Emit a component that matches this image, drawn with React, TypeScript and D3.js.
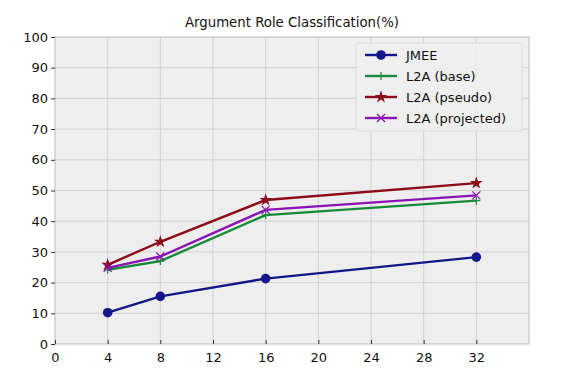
import React, { useEffect, useRef } from 'react';
import * as d3 from 'd3';

const xs = [4, 8, 16, 32];
const jmee = [10.2, 15.5, 21.3, 28.3];
const l2aBase = [24.2, 27.0, 42.0, 46.7];
const l2aPseudo = [25.8, 33.3, 46.9, 52.4];
const l2aProjected = [24.8, 28.5, 43.7, 48.4];
const xTicks = [0, 4, 8, 12, 16, 20, 24, 28, 32];
const yTicks = [0, 10, 20, 30, 40, 50, 60, 70, 80, 90, 100];

const series = [
  { name: 'JMEE', values: jmee, color: '#13178a', marker: 'circle' },
  { name: 'L2A (base)', values: l2aBase, color: '#178a3c', marker: 'plus' },
  { name: 'L2A (pseudo)', values: l2aPseudo, color: '#8c0a1a', marker: 'star' },
  { name: 'L2A (projected)', values: l2aProjected, color: '#8a14b4', marker: 'x' },
];

const App = () => {
  const ref = useRef<SVGSVGElement>(null);

  useEffect(() => {
    const width = 564;
    const height = 378;
    const margin = { top: 37, right: 35, bottom: 34, left: 55 };
    const svg = d3.select(ref.current);
    svg.selectAll('*').remove();
    const font = 'DejaVu Sans, sans-serif';

    const x = d3.scaleLinear().domain([0, 36]).range([margin.left, width - margin.right]);
    const y = d3.scaleLinear().domain([0, 100]).range([height - margin.bottom, margin.top]);

    // plot background
    svg.append('rect')
      .attr('x', x(0))
      .attr('y', y(100))
      .attr('width', x(36) - x(0))
      .attr('height', y(0) - y(100))
      .attr('fill', '#eeeeee');

    // grid
    const grid = svg.append('g').attr('stroke', '#d2d2d2').attr('stroke-width', 1);
    grid.selectAll('.gx')
      .data(xTicks.slice(1))
      .enter()
      .append('line')
      .attr('x1', (d) => x(d))
      .attr('x2', (d) => x(d))
      .attr('y1', y(0))
      .attr('y2', y(100));
    grid.selectAll('.gy')
      .data(yTicks.slice(1, -1))
      .enter()
      .append('line')
      .attr('x1', x(0))
      .attr('x2', x(36))
      .attr('y1', (d) => y(d))
      .attr('y2', (d) => y(d));

    // frame
    svg.append('rect')
      .attr('x', x(0))
      .attr('y', y(100))
      .attr('width', x(36) - x(0))
      .attr('height', y(0) - y(100))
      .attr('fill', 'none')
      .attr('stroke', '#bcbcbc')
      .attr('stroke-width', 1);

    // axes
    const xAxis = svg.append('g')
      .attr('transform', `translate(0,${y(0)})`)
      .call(d3.axisBottom(x).tickValues(xTicks).tickSizeInner(-4).tickSizeOuter(0).tickPadding(9));
    xAxis.select('.domain').remove();
    xAxis.selectAll('line').attr('stroke', '#333');
    xAxis.selectAll('text').attr('font-size', 13).attr('font-family', font).attr('fill', '#111');

    const yAxis = svg.append('g')
      .attr('transform', `translate(${x(0)},0)`)
      .call(d3.axisLeft(y).tickValues(yTicks).tickSizeInner(4).tickSizeOuter(0).tickPadding(3));
    yAxis.select('.domain').remove();
    yAxis.selectAll('line').attr('stroke', '#333');
    yAxis.selectAll('text').attr('font-size', 13).attr('font-family', font).attr('fill', '#111');

    // title
    svg.append('text')
      .attr('x', (x(0) + x(36)) / 2)
      .attr('y', 27)
      .attr('text-anchor', 'middle')
      .attr('font-family', font)
      .attr('font-size', 13.3)
      .attr('fill', '#111')
      .text('Argument Role Classification(%)');

    const drawMarker = (g: any, kind: string, color: string) => {
      if (kind === 'circle') {
        g.append('circle').attr('r', 4.8).attr('fill', color);
      } else if (kind === 'plus') {
        g.append('path').attr('d', 'M-4,0H4M0,-4V4').attr('stroke', color).attr('stroke-width', 1.2);
      } else if (kind === 'star') {
        g.append('path').attr('d', d3.symbol(d3.symbolStar, 50)()).attr('fill', color);
      } else {
        g.append('path').attr('d', 'M-4,-4L4,4M-4,4L4,-4').attr('stroke', color).attr('stroke-width', 1.3);
      }
    };

    const line = d3.line<number>()
      .x((d, i) => x(xs[i]))
      .y((d) => y(d));

    series.forEach((s) => {
      svg.append('path')
        .attr('d', line(s.values))
        .attr('fill', 'none')
        .attr('stroke', s.color)
        .attr('stroke-width', 2.4);
      s.values.forEach((v, i) => {
        const g = svg.append('g').attr('transform', `translate(${x(xs[i])},${y(v)})`);
        drawMarker(g, s.marker, s.color);
      });
    });

    // legend
    const lg = svg.append('g').attr('transform', 'translate(356,43)');
    lg.append('rect')
      .attr('width', 166)
      .attr('height', 88)
      .attr('rx', 2)
      .attr('fill', '#eeeeee')
      .attr('fill-opacity', 0.9)
      .attr('stroke', '#dddddd');
    series.forEach((s, i) => {
      const row = lg.append('g').attr('transform', `translate(0,${12 + i * 21})`);
      row.append('line')
        .attr('x1', 9)
        .attr('x2', 41)
        .attr('stroke', s.color)
        .attr('stroke-width', 2.4);
      const m = row.append('g').attr('transform', 'translate(25,0)');
      drawMarker(m, s.marker, s.color);
      row.append('text')
        .attr('x', 50)
        .attr('y', 4.5)
        .attr('font-family', font)
        .attr('font-size', 13)
        .attr('fill', '#111')
        .text(s.name);
    });
  }, []);

  return <svg ref={ref} width={564} height={378} style={{ display: 'block', position: 'absolute', left: 0, top: 0 }} />;
};

export default App;
